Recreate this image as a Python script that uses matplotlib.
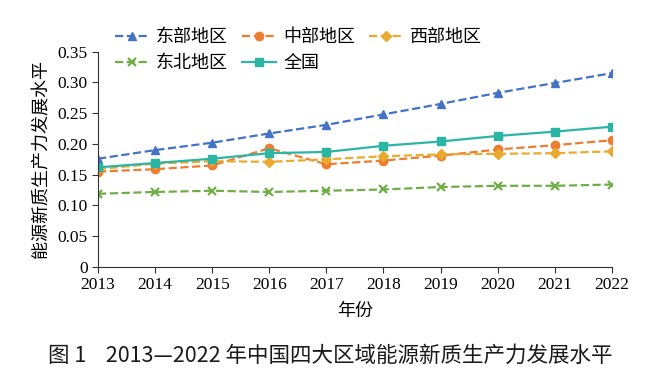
import matplotlib.pyplot as plt

plt.rcParams['font.family'] = ['Liberation Serif', 'Noto Sans CJK SC']

years = [2013, 2014, 2015, 2016, 2017, 2018, 2019, 2020, 2021, 2022]
east = [0.176, 0.190, 0.202, 0.217, 0.231, 0.248, 0.265, 0.283, 0.299, 0.315]
central = [0.155, 0.159, 0.165, 0.193, 0.167, 0.173, 0.181, 0.191, 0.198, 0.206]
west = [0.159, 0.168, 0.172, 0.171, 0.175, 0.180, 0.183, 0.184, 0.185, 0.188]
northeast = [0.119, 0.122, 0.124, 0.122, 0.124, 0.126, 0.130, 0.132, 0.132, 0.134]
national = [0.162, 0.169, 0.176, 0.185, 0.187, 0.197, 0.204, 0.213, 0.220, 0.228]

cjk = ['Noto Sans CJK SC']

fig = plt.figure(figsize=(6.6, 3.91), dpi=100)
ax = fig.add_axes([0.1485, 0.317, 0.7785, 0.551])

l_east, = ax.plot(years, east, '--', color='#4472C4', marker='^', markersize=6,
                  lw=1.6, label='东部地区')
l_cen, = ax.plot(years, central, '--', color='#ED7D31', marker='o', markersize=6,
                 lw=1.6, label='中部地区')
l_west, = ax.plot(years, west, '--', color='#EAAA2E', marker='D', markersize=5,
                  lw=1.6, label='西部地区')
l_ne, = ax.plot(years, northeast, '--', color='#70AD47', marker='x', markersize=6,
                mew=1.6, lw=1.6, label='东北地区')
l_nat, = ax.plot(years, national, '-', color='#2BB5A5', marker='s', markersize=6,
                 lw=1.6, label='全国')

ax.set_xlim(2013, 2022)
ax.set_ylim(0, 0.35)
ax.set_xticks(years)
ax.set_yticks([0, 0.05, 0.10, 0.15, 0.20, 0.25, 0.30, 0.35])
ax.set_yticklabels(['0', '0.05', '0.10', '0.15', '0.20', '0.25', '0.30', '0.35'])
ax.tick_params(axis='both', labelsize=12.5, direction='out', length=4, color='#333333')
ax.spines['top'].set_visible(False)
ax.spines['right'].set_visible(False)
ax.spines['left'].set_color('#333333')
ax.spines['bottom'].set_color('#333333')

ax.set_xlabel('年份', family=cjk, fontsize=13, labelpad=6)
ax.set_ylabel('能源新质生产力发展水平', family=cjk, fontsize=13, labelpad=5)

leg = fig.legend(handles=[l_east, l_ne, l_cen, l_nat, l_west], ncol=3,
                 loc='upper left', bbox_to_anchor=(0.149, 0.97), frameon=False,
                 prop={'family': cjk, 'size': 13}, handlelength=1.9,
                 columnspacing=0.75, labelspacing=0.45, handletextpad=0.4)

fig.text(0.5, 0.09, '图 1    2013—2022 年中国四大区域能源新质生产力发展水平',
         ha='center', va='center', family=cjk, fontsize=15.5,
         color='#1a1a1a')

fig.savefig('out.png', dpi=100)
